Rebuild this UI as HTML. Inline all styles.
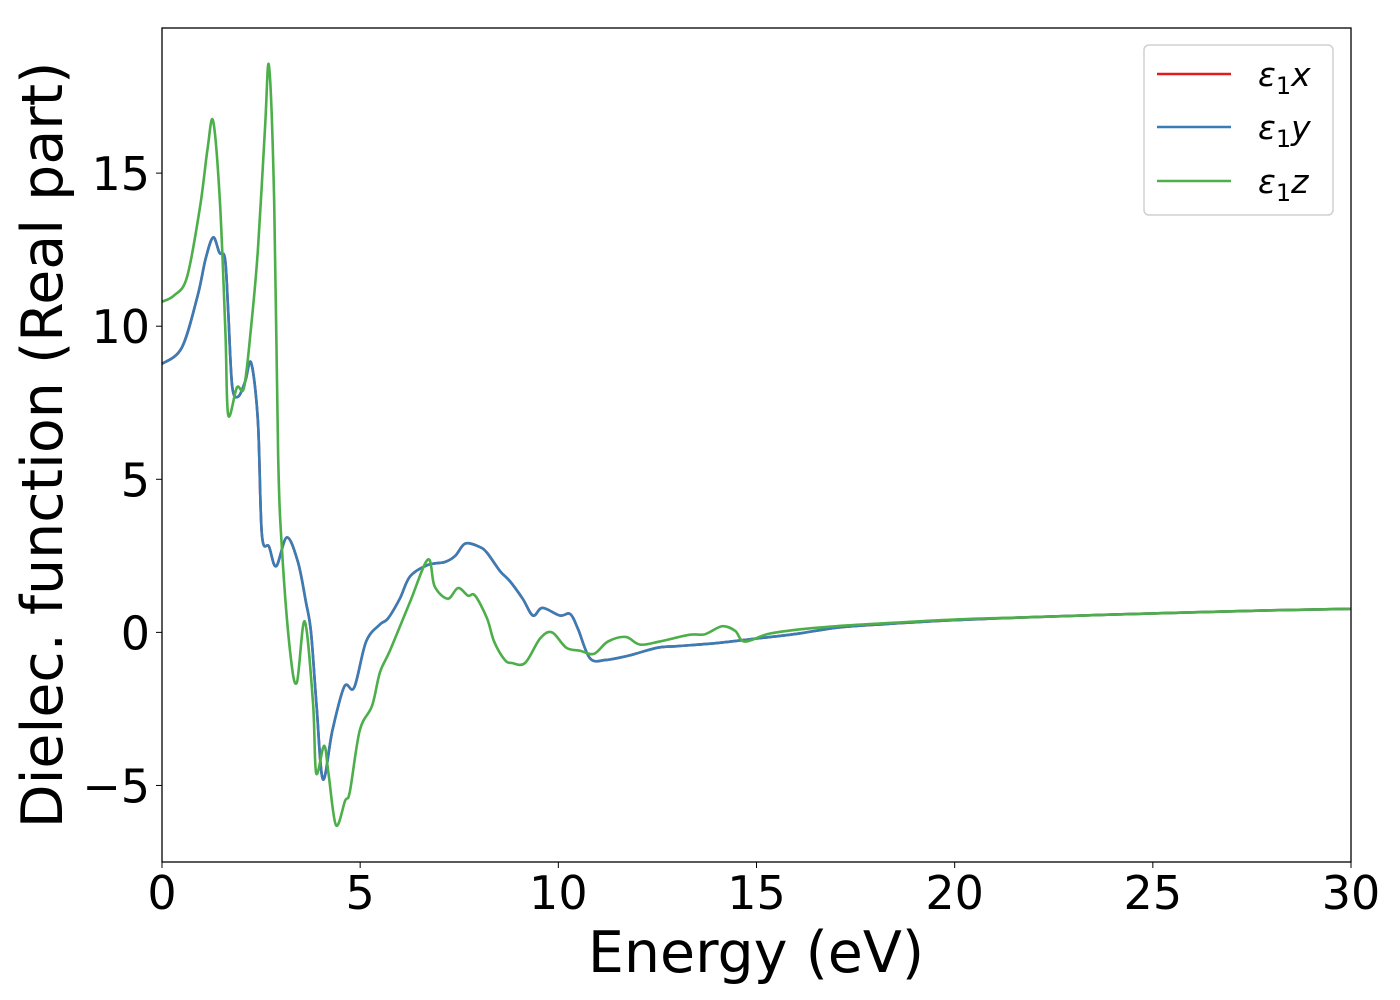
<!DOCTYPE html>
<html><head><meta charset="utf-8"><style>
body{margin:0;background:#fff;}
svg{display:block;font-family:"DejaVu Sans","Liberation Sans",sans-serif;}
</style></head><body>
<svg id="chart" width="1400" height="1000" viewBox="0 0 1400 1000" xmlns="http://www.w3.org/2000/svg">
<rect x="0" y="0" width="1400" height="1000" fill="#fff"/>
<g id="plot"></g>
<g id="axes"></g>
<text x="756" y="972" font-size="57" text-anchor="middle">Energy (eV)</text>
<text transform="translate(62,445) rotate(-90)" font-size="57" text-anchor="middle">Dielec. function (Real part)</text>
<g>
<rect x="1144" y="45" width="189" height="170" rx="5" fill="#fff" stroke="#d0d0d0" stroke-width="1.5"/>
<g><line x1="1157" y1="74" x2="1231" y2="74" stroke="#e41a1c" stroke-width="2.5"/><text x="1258" y="86" font-size="33" font-style="italic">ε<tspan font-style="normal" font-size="24" dy="8">1</tspan><tspan dy="-8">x</tspan></text></g>
<g><line x1="1157" y1="127" x2="1231" y2="127" stroke="#377eb8" stroke-width="2.5"/><text x="1258" y="139" font-size="33" font-style="italic">ε<tspan font-style="normal" font-size="24" dy="8">1</tspan><tspan dy="-8">y</tspan></text></g>
<g><line x1="1157" y1="181" x2="1231" y2="181" stroke="#4daf4a" stroke-width="2.5"/><text x="1258" y="193" font-size="33" font-style="italic">ε<tspan font-style="normal" font-size="24" dy="8">1</tspan><tspan dy="-8">z</tspan></text></g>
</g>
</svg>
<script>
const xyEnergy=[0,0.5,0.9,1.1,1.29,1.45,1.59,1.67,1.77,1.92,2.1,2.25,2.42,2.52,2.7,2.88,3.15,3.43,3.63,3.76,3.9,4.06,4.3,4.6,4.85,5.15,5.5,5.7,6.0,6.26,6.7,7.14,7.4,7.65,8.0,8.2,8.53,8.78,9.1,9.36,9.6,10.04,10.3,10.5,10.8,11.2,11.8,12.5,13,14,15,16,17,18,20,22,25,28,30];
const xyValues=[8.77,9.3,11.0,12.2,12.9,12.4,12.2,10.5,8.05,7.7,8.2,8.8,6.9,3.2,2.8,2.16,3.1,2.3,1.0,0.0,-2.4,-4.8,-3.2,-1.77,-1.8,-0.3,0.26,0.45,1.1,1.83,2.2,2.3,2.5,2.9,2.8,2.6,2.0,1.67,1.1,0.55,0.8,0.55,0.6,0.1,-0.85,-0.9,-0.75,-0.5,-0.45,-0.35,-0.2,-0.05,0.15,0.25,0.4,0.5,0.62,0.72,0.77];
const zEnergy=[0,0.3,0.63,0.96,1.15,1.29,1.46,1.6,1.67,1.89,2.07,2.25,2.42,2.6,2.7,2.83,2.93,3.03,3.23,3.4,3.6,3.81,3.89,4.09,4.2,4.39,4.62,4.74,4.99,5.3,5.5,5.75,6.26,6.71,6.88,7.21,7.47,7.72,7.9,8.2,8.38,8.65,8.83,9.16,9.54,9.84,10.2,10.55,10.9,11.25,11.7,12.06,12.55,13.3,13.7,14.13,14.46,14.7,15.3,16.1,17,18,20,22,25,28,30];
const zValues=[10.8,11.0,11.6,13.9,15.8,16.7,14.1,9.8,7.1,8.0,8.0,10.0,12.5,16.5,18.5,14.1,5.8,2.65,-0.6,-1.65,0.36,-2.3,-4.6,-3.7,-4.6,-6.3,-5.5,-5.2,-3.2,-2.4,-1.3,-0.6,1.0,2.38,1.5,1.1,1.45,1.2,1.2,0.46,-0.3,-0.9,-1.0,-1.0,-0.2,0.0,-0.5,-0.6,-0.7,-0.3,-0.15,-0.4,-0.3,-0.08,-0.06,0.2,0.05,-0.3,-0.05,0.1,0.2,0.28,0.42,0.5,0.62,0.72,0.77];
const xTicks=[0,5,10,15,20,25,30];
const yTicks=[-5,0,5,10,15];
const X0=162,X1=1351,Y0=28,Y1=862,XMIN=0,XMAX=30,YMIN=-7.5,YMAX=19.74;
const sx=v=>X0+(v-XMIN)/(XMAX-XMIN)*(X1-X0);
const sy=v=>Y1-(v-YMIN)/(YMAX-YMIN)*(Y1-Y0);
const NS="http://www.w3.org/2000/svg";
function pathFor(xs,ys){
  const p=xs.map((x,i)=>[sx(x),sy(ys[i])]);
  let d="M"+p[0][0]+","+p[0][1];
  for(let i=0;i<p.length-1;i++){
    const a=p[Math.max(0,i-1)],b=p[i],c=p[i+1],e=p[Math.min(p.length-1,i+2)];
    const c1=[b[0]+(c[0]-a[0])/6,b[1]+(c[1]-a[1])/6],c2=[c[0]-(e[0]-b[0])/6,c[1]-(e[1]-b[1])/6];
    d+=" C"+c1[0]+","+c1[1]+" "+c2[0]+","+c2[1]+" "+c[0]+","+c[1];
  }
  return d;
}
const plot=document.getElementById("plot");
const series=[[xyEnergy,xyValues,"#e41a1c","series-eps1-x"],[xyEnergy,xyValues,"#377eb8","series-eps1-y"],[zEnergy,zValues,"#4daf4a","series-eps1-z"]];
series.forEach(s=>{
  const el=document.createElementNS(NS,"path");
  el.setAttribute("d",pathFor(s[0],s[1]));
  el.setAttribute("fill","none");el.setAttribute("stroke",s[2]);el.setAttribute("stroke-width","2.6");
  
  
  plot.appendChild(el);
});
const axes=document.getElementById("axes");
const frame=document.createElementNS(NS,"rect");
frame.setAttribute("x",X0);frame.setAttribute("y",Y0);frame.setAttribute("width",X1-X0);frame.setAttribute("height",Y1-Y0);
frame.setAttribute("fill","none");frame.setAttribute("stroke","#000");frame.setAttribute("stroke-width","1.3");


axes.appendChild(frame);
xTicks.forEach(t=>{
  const l=document.createElementNS(NS,"line");
  l.setAttribute("x1",sx(t));l.setAttribute("x2",sx(t));l.setAttribute("y1",Y1);l.setAttribute("y2",Y1+6);l.setAttribute("stroke","#000");
  
  
  axes.appendChild(l);
  const tx=document.createElementNS(NS,"text");
  tx.setAttribute("x",sx(t));tx.setAttribute("y",909);tx.setAttribute("font-size","46");tx.setAttribute("text-anchor","middle");
  tx.textContent=t;
  
  
  axes.appendChild(tx);
});
yTicks.forEach(t=>{
  const l=document.createElementNS(NS,"line");
  l.setAttribute("x1",X0-6);l.setAttribute("x2",X0);l.setAttribute("y1",sy(t));l.setAttribute("y2",sy(t));l.setAttribute("stroke","#000");
  
  
  axes.appendChild(l);
  const tx=document.createElementNS(NS,"text");
  tx.setAttribute("x",X0-12);tx.setAttribute("y",sy(t)+17);tx.setAttribute("font-size","46");tx.setAttribute("text-anchor","end");
  tx.textContent=t<0?"\u2212"+Math.abs(t):String(t);
  
  
  axes.appendChild(tx);
});
</script>
</body></html>
